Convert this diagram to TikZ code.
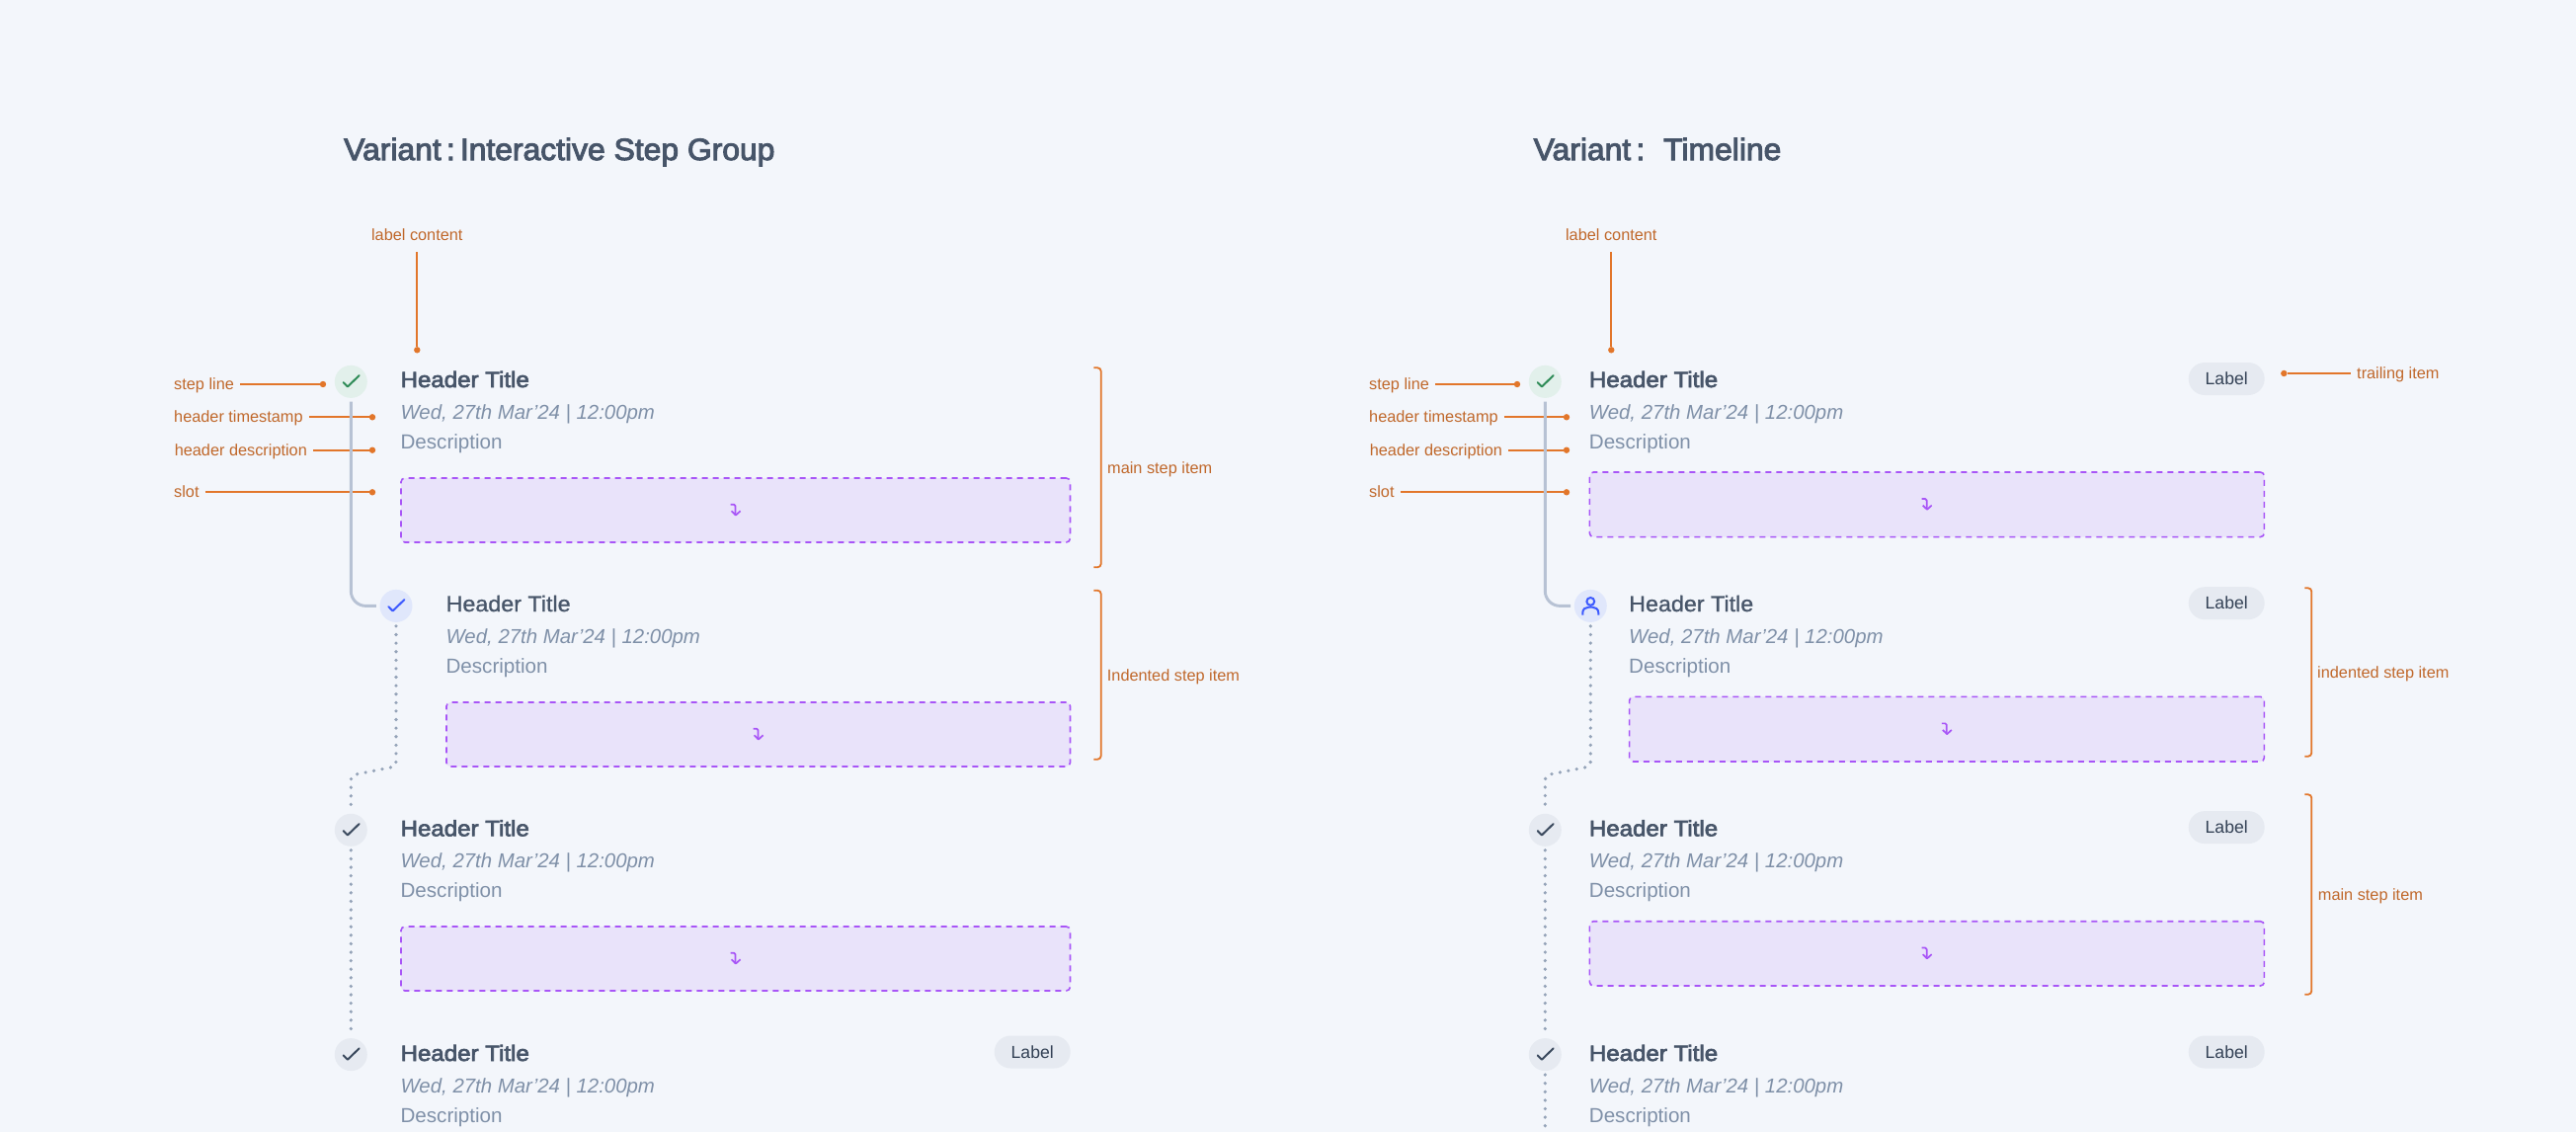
\documentclass[tikz,border=0pt]{standalone}
\usepackage{fontspec}
\setmainfont{Liberation Sans}
\newfontfamily\ftitle[FakeBold=3.2,FakeStretch=1.027]{Liberation Sans}
\newfontfamily\fhsemi[FakeBold=3,FakeStretch=1.075]{Liberation Sans}
\newfontfamily\fhmed[FakeBold=0.9,FakeStretch=1.04]{Liberation Sans}
\newfontfamily\fbody{Liberation Sans}
\definecolor{bgc}{HTML}{F3F6FB}
\definecolor{titlec}{HTML}{475569}
\definecolor{mutedc}{HTML}{7F90A8}
\definecolor{annotxt}{HTML}{C0682B}
\definecolor{annoln}{HTML}{E2762A}
\definecolor{slotfill}{HTML}{E9E3FA}
\definecolor{slotdash}{HTML}{A855F7}
\definecolor{linec}{HTML}{B7C2D4}
\definecolor{dotc}{HTML}{94A3B8}
\definecolor{greenbg}{HTML}{E2F0EB}
\definecolor{greenfg}{HTML}{2E8B57}
\definecolor{bluebg}{HTML}{E0E7FB}
\definecolor{bluefg}{HTML}{3D5AFE}
\definecolor{greybg}{HTML}{E6EAF1}
\definecolor{greyfg}{HTML}{3B4A5E}
\definecolor{pilltxt}{HTML}{334155}
\tikzset{
  txt/.style={inner sep=0pt,anchor=base west},
  vtitle/.style={txt,text=titlec,font=\ftitle\fontsize{31}{31}\selectfont},
  hsemi/.style={txt,text=titlec,font=\fhsemi\fontsize{22.4}{24}\selectfont},
  hmed/.style={txt,text=titlec,font=\fhmed\fontsize{22.4}{24}\selectfont},
  tstamp/.style={txt,text=mutedc,font=\fbody\itshape\fontsize{20.4}{24}\selectfont},
  descr/.style={txt,text=mutedc,font=\fbody\fontsize{20.6}{24}\selectfont},
  anno/.style={txt,text=annotxt,font=\fbody\fontsize{16.3}{18}\selectfont},
  annoline/.style={draw=annoln,line width=1.7pt},
  annodot/.style={circle,fill=annoln,inner sep=0pt,minimum size=6.4pt},
  bracketln/.style={draw=annoln,line width=1.8pt,rounded corners=3.5pt},
  stepc/.style={circle,inner sep=0pt,minimum size=33pt},
  stepgreen/.style={stepc,fill=greenbg},
  stepblue/.style={stepc,fill=bluebg},
  stepgrey/.style={stepc,fill=greybg},
  checkln/.style={line width=2pt,line cap=round,line join=round},
  solidstep/.style={draw=linec,line width=2.9pt,rounded corners=15pt},
  dotstep/.style={draw=dotc,line width=3.6pt,line cap=round,dash pattern=on 0pt off 8.6pt},
  slotbox/.style={draw=slotdash,fill=slotfill,line width=1.6pt,dash pattern=on 6pt off 5pt,rounded corners=4pt,inner sep=0pt,outer sep=0pt},
  slotarrow/.style={draw=slotdash,line width=1.7pt,line join=round},
  pill/.style={fill=greybg,rounded corners=16.5pt,minimum width=77pt,minimum height=33pt,inner sep=0pt,text=pilltxt,font=\fbody\fontsize{17.6}{18}\selectfont},
}
% step item texts: name, x, baseline, title style
\newcommand{\stepitem}[4]{%
  \node[#4] (#1t) at (#2,#3) {Header Title};
  \node[tstamp] (#1s) at (#2,#3+32) {Wed, 27th Mar’24 | 12:00pm};
  \node[descr] (#1d) at (#2,#3+62.3) {Description};
}
% slot: name, left, top, right, bottom
\newcommand{\slotnode}[5]{%
  \node[slotbox,anchor=north west,minimum width={(#4-#2)*1pt},minimum height={(#5-#3)*1pt}] (#1) at (#2,#3) {};
  \begin{scope}[shift={(#1.center)}]
    \draw[slotarrow,rounded corners=1.5pt] (-5.2,-5.8) -- (-.2,-5.8) -- (-.2,5);
    \draw[slotarrow] (-4.2,.8) -- (.2,5) -- (4.8,.8);
  \end{scope}
}
\newcommand{\chkmark}[2]{%
  \draw[checkln,#2] ([shift={(-7.6,.8)}]#1.center) -- ([shift={(-3.4,5.1)}]#1.center) -- ([shift={(8.4,-6.3)}]#1.center);
}
% bracket: name, xstart, xv, top, bottom
\newcommand{\bracketmark}[5]{%
  \coordinate (#1a) at (#2,#4);
  \coordinate (#1b) at (#3,#4);
  \coordinate (#1c) at (#3,#5);
  \coordinate (#1d) at (#2,#5);
  \draw[bracketln] (#1a) -- (#1b) -- (#1c) -- (#1d);
}
% horizontal annotation: name, x of text, baseline, y of line, x of dot, text
\newcommand{\annoleft}[6]{%
  \node[anno] (#1) at (#2,#3) {#6};
  \node[annodot] (#1p) at (#5,#4) {};
  \draw[annoline] ([xshift=6pt]#1.east |- #1p) -- (#1p);
}
\begin{document}
\begin{tikzpicture}[x=1pt,y=-1pt]
\useasboundingbox (0,0) rectangle (2608,1146);
\fill[bgc] (0,0) rectangle (2608,1146);

% ---------- titles
\node[vtitle] (ttl) at (348,162) {Variant\,:\,Interactive Step Group};
\node[vtitle] (ttr) at (1552.5,162) {Variant\,:\hspace{19pt}Timeline};

% ---------- left column
\node[stepgreen] (lc1) at (355.3,386.4) {};
\node[stepblue]  (lc2) at (401,613.4) {};
\node[stepgrey]  (lc3) at (355.3,840.3) {};
\node[stepgrey]  (lc4) at (355.3,1067.6) {};
\chkmark{lc1}{greenfg}
\chkmark{lc2}{bluefg}
\chkmark{lc3}{greyfg}
\chkmark{lc4}{greyfg}

\stepitem{li1}{405.4}{392}{hsemi}
\stepitem{li2}{451.4}{619}{hmed}
\stepitem{li3}{405.4}{846.4}{hsemi}
\stepitem{li4}{405.4}{1074}{hsemi}
\slotnode{ls1}{406}{484}{1083.5}{549}
\slotnode{ls2}{452}{711}{1083.5}{776}
\slotnode{ls3}{406}{938}{1083.5}{1003}
\node[pill] (lp4) at (1045.2,1065) {Label};

\node[anno,anchor=base] (llc) at (422.3,243) {label content};
\node[annodot] (llcp) at (422.3,354.3) {};
\draw[annoline] (422.3,255) -- (llcp);
\annoleft{la1}{176}{394.6}{389}{327}{step line}
\annoleft{la2}{176}{427.6}{422.3}{377}{header timestamp}
\annoleft{la3}{176.6}{461}{455.7}{377}{header description}
\annoleft{la4}{176}{503.6}{498.3}{377}{slot}

\draw[solidstep] ([yshift=-3.4pt]lc1.south) |- ([xshift=-3.4pt]lc2.west);
\coordinate (lb1) at (401,771);
\coordinate (lb2) at (355.3,789);
\draw[dotstep] ([yshift=-3.8pt]lc2.south) -- (lb1) .. controls (401,775) and (399,776.3) .. (396,776.8) -- (362,783.6) .. controls (357,784.6) and (355.3,786) .. (lb2) -- ([yshift=3.8pt]lc3.north);
\draw[dotstep] ([yshift=-3.8pt]lc3.south) -- ([yshift=4pt]lc4.north);

\bracketmark{lbr1}{1107.3}{1114.7}{372.3}{574.3}
\node[anno] (lbt1) at (1121,479) {main step item};
\bracketmark{lbr2}{1107.3}{1114.7}{597.7}{768.7}
\node[anno] (lbt2) at (1120.7,689) {Indented step item};

% ---------- right column
\node[stepgreen] (rc1) at (1564.3,386.4) {};
\node[stepblue]  (rc2) at (1610.3,613.4) {};
\node[stepgrey]  (rc3) at (1564.3,840.3) {};
\node[stepgrey]  (rc4) at (1564.3,1067.6) {};
\chkmark{rc1}{greenfg}
\chkmark{rc3}{greyfg}
\chkmark{rc4}{greyfg}
\begin{scope}[shift={(rc2.center)}]
  \draw[bluefg,line width=2pt] (0,-4.5) circle[radius=3.9];
  \draw[bluefg,line width=2pt] (-8,9.3) -- (-8,7) .. controls (-8,3.2) and (-5,1.3) .. (-2,1.3) -- (2,1.3) .. controls (5,1.3) and (8,3.2) .. (8,7) -- (8,9.3);
\end{scope}

\stepitem{ri1}{1608.7}{392}{hsemi}
\stepitem{ri2}{1649}{619}{hmed}
\stepitem{ri3}{1608.7}{846.4}{hsemi}
\stepitem{ri4}{1608.7}{1074}{hsemi}
\slotnode{rs1}{1609.3}{478}{2292.4}{543.6}
\slotnode{rs2}{1649.6}{705.3}{2292.4}{771}
\slotnode{rs3}{1609.3}{932.7}{2292.4}{998}
\node[pill] (rp1) at (2254.2,383.5) {Label};
\node[pill] (rp2) at (2254.2,610.7) {Label};
\node[pill] (rp3) at (2254.2,837.6) {Label};
\node[pill] (rp4) at (2254.2,1065) {Label};

\node[anno,anchor=base] (rlc) at (1631.3,243) {label content};
\node[annodot] (rlcp) at (1631.3,354.3) {};
\draw[annoline] (1631.3,255) -- (rlcp);
\annoleft{ra1}{1386}{394.6}{389}{1536}{step line}
\annoleft{ra2}{1386}{427.6}{422.3}{1586}{header timestamp}
\annoleft{ra3}{1386.6}{461}{455.7}{1586}{header description}
\annoleft{ra4}{1386}{503.6}{498.3}{1586}{slot}
\node[annodot] (rtp) at (2312.3,378) {};
\node[anno] (rtt) at (2386,383) {trailing item};
\draw[annoline] (rtp) -- ([xshift=-6pt]rtt.west |- rtp);

\draw[solidstep] ([yshift=-3.4pt]rc1.south) |- ([xshift=-3.4pt]rc2.west);
\coordinate (rb1) at (1610.3,771);
\coordinate (rb2) at (1564.3,789);
\draw[dotstep] ([yshift=-3.8pt]rc2.south) -- (rb1) .. controls (1610.3,775) and (1608.3,776.3) .. (1605.3,776.8) -- (1571,783.6) .. controls (1566,784.6) and (1564.3,786) .. (rb2) -- ([yshift=3.8pt]rc3.north);
\draw[dotstep] ([yshift=-3.8pt]rc3.south) -- ([yshift=4pt]rc4.north);
\coordinate (rend) at (1564.3,1146);
\draw[dotstep] ([yshift=-3.8pt]rc4.south) -- (rend);

\bracketmark{rbr1}{2333.3}{2340.3}{595.3}{765.7}
\node[anno] (rbt1) at (2346,686) {indented step item};
\bracketmark{rbr2}{2333.3}{2340.3}{804.3}{1006.7}
\node[anno] (rbt2) at (2346.7,911.7) {main step item};
\end{tikzpicture}
\end{document}
